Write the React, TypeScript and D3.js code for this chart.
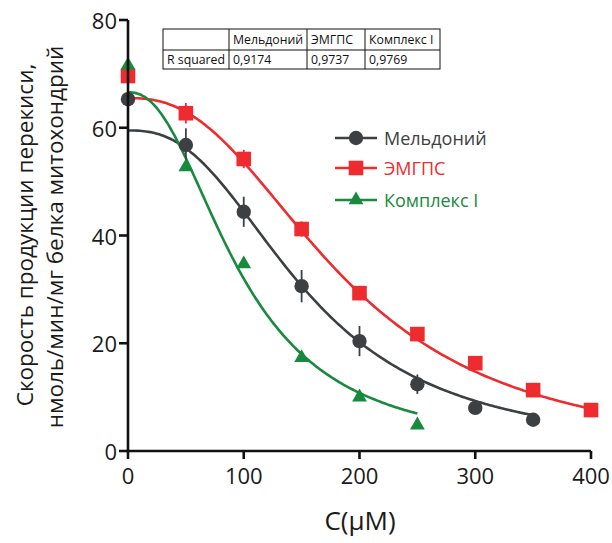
import React from "react";
import * as d3 from "d3";

// Concentrations (µM) and measured rates (nmol/min/mg mitochondrial protein)
const concMeld = [0, 50, 100, 150, 200, 250, 300, 350];
const valMeld = [65.3, 56.8, 44.4, 30.6, 20.4, 12.4, 8.0, 5.8];
const errMeld = [0, 3.1, 2.8, 3.0, 2.8, 1.8, 0, 0];

const concEmgps = [0, 50, 100, 150, 200, 250, 300, 350, 400];
const valEmgps = [69.6, 62.7, 54.2, 41.2, 29.3, 21.7, 16.3, 11.3, 7.6];
const errEmgps = [0, 1.9, 1.7, 1.4, 0, 0, 0, 0, 0];

const concComplex = [0, 50, 100, 150, 200, 250];
const valComplex = [71.6, 52.7, 34.7, 17.3, 10.0, 4.8];

// Four-parameter logistic fits: [top, bottom, EC50, Hill slope, max x]
const fitMeld = [59.5, 0, 153.6, 2.52, 350];
const fitEmgps = [65.5, -1, 186, 2.45, 400];
const fitComplex = [66.6, 0, 96.6, 2.26, 250];

const seriesNames = ["Мельдоний", "ЭМГПС", "Комплекс I"];
const seriesColors = ["#3d4043", "#ee2b2e", "#178a3d"];

const rSquaredHeader = ["", "Мельдоний", "ЭМГПС", "Комплекс I"];
const rSquaredRow = ["R squared", "0,9174", "0,9737", "0,9769"];

const xTicks = [0, 100, 200, 300, 400];
const yTicks = [0, 20, 40, 60, 80];

const FONT = "'Open Sans', 'Noto Sans', sans-serif";

const x = d3.scaleLinear().domain([0, 400]).range([128, 591]);
const y = d3.scaleLinear().domain([0, 80]).range([451, 20]);

function logistic(p: number[]) {
  const [top, bottom, ec50, hill] = p;
  return (c: number) => bottom + (top - bottom) / (1 + Math.pow(c / ec50, hill));
}

function fitPath(p: number[]) {
  const f = logistic(p);
  const xs = d3.range(0, p[4] + 0.001, 2);
  const line = d3
    .line<number>()
    .x((c) => x(c))
    .y((c) => y(f(c)))
    .curve(d3.curveMonotoneX);
  return line(xs) || "";
}

function Marker({ kind, cx, cy, color }: { kind: number; cx: number; cy: number; color: string }) {
  if (kind === 0) return <circle cx={cx} cy={cy} r={7.2} fill={color} />;
  if (kind === 1) return <rect x={cx - 7.3} y={cy - 7.3} width={14.6} height={14.6} fill={color} />;
  const s = d3.symbol().type(d3.symbolTriangle).size(95)();
  return <path d={s || ""} transform={`translate(${cx},${cy})`} fill={color} />;
}

function ErrorBars({ cs, vs, es, color }: { cs: number[]; vs: number[]; es: number[]; color: string }) {
  return (
    <g stroke={color} strokeWidth={1.8}>
      {cs.map((c, i) =>
        es[i] > 0 ? (
          <line key={i} x1={x(c)} x2={x(c)} y1={y(vs[i] + es[i])} y2={y(vs[i] - es[i])} />
        ) : null
      )}
    </g>
  );
}

export default function App() {
  const colX = [163, 229, 307, 365, 440];
  const rowY = [29, 50, 69];
  const legendRows = [138, 168, 200];

  return (
    <svg width={612} height={543} style={{ display: "block", position: "absolute", left: 0, top: 0 }}>
      <rect width={612} height={543} fill="#fff" />

      {/* Fitted curves */}
      <path d={fitPath(fitMeld)} fill="none" stroke={seriesColors[0]} strokeWidth={2.6} />
      <path d={fitPath(fitEmgps)} fill="none" stroke={seriesColors[1]} strokeWidth={2.6} />
      <path d={fitPath(fitComplex)} fill="none" stroke={seriesColors[2]} strokeWidth={2.6} />

      <ErrorBars cs={concMeld} vs={valMeld} es={errMeld} color={seriesColors[0]} />
      <ErrorBars cs={concEmgps} vs={valEmgps} es={errEmgps} color={seriesColors[1]} />

      {/* Data points */}
      {concMeld.map((c, i) => (
        <Marker key={"m" + i} kind={0} cx={x(c)} cy={y(valMeld[i])} color={seriesColors[0]} />
      ))}
      {concEmgps.map((c, i) => (
        <Marker key={"e" + i} kind={1} cx={x(c)} cy={y(valEmgps[i])} color={seriesColors[1]} />
      ))}
      {concComplex.map((c, i) => (
        <Marker key={"k" + i} kind={2} cx={x(c)} cy={y(valComplex[i])} color={seriesColors[2]} />
      ))}

      {/* Axes */}
      <g stroke="#111" strokeWidth={2.6} fill="none">
        <line x1={x(0)} x2={x(0)} y1={y(0) + 1.3} y2={y(80)} />
        <line x1={x(0)} x2={x(400)} y1={y(0)} y2={y(0)} />
        {yTicks.map((t) => (
          <line key={"yt" + t} x1={x(0) - 9} x2={x(0)} y1={y(t)} y2={y(t)} />
        ))}
        {xTicks.map((t) => (
          <line key={"xt" + t} x1={x(t)} x2={x(t)} y1={y(0)} y2={y(0) + 8} />
        ))}
      </g>
      <g fontFamily={FONT} fontSize={22} fill="#1a1a1a">
        {yTicks.map((t) => (
          <text key={"yl" + t} x={x(0) - 11} y={y(t)} textAnchor="end" dominantBaseline="central">
            {t}
          </text>
        ))}
        {xTicks.map((t) => (
          <text key={"xl" + t} x={x(t)} y={y(0) + 33} textAnchor="middle">
            {t}
          </text>
        ))}
      </g>

      {/* Axis titles */}
      <text x={360} y={530} textAnchor="middle" fontFamily={FONT} fontSize={26} fill="#1a1a1a">
        C(μM)
      </text>
      <g fontFamily={FONT} fontSize={22.5} fill="#1a1a1a" textAnchor="middle">
        <text transform="translate(33,235) rotate(-90)">Скорость продукции перекиси,</text>
        <text transform="translate(63,237) rotate(-90)">нмоль/мин/мг белка митохондрий</text>
      </g>

      {/* Legend */}
      {seriesNames.map((name, i) => (
        <g key={name}>
          <line x1={335} x2={377} y1={legendRows[i]} y2={legendRows[i]} stroke={seriesColors[i]} strokeWidth={2.6} />
          <Marker kind={i} cx={356} cy={legendRows[i]} color={seriesColors[i]} />
          <text
            x={384}
            y={legendRows[i]}
            dominantBaseline="central"
            fontFamily={FONT}
            fontSize={18}
            fill={seriesColors[i]}
          >
            {name}
          </text>
        </g>
      ))}

      {/* R squared table */}
      <g fontFamily={FONT} fontSize={12.3} fill="#111">
        <rect x={colX[0]} y={rowY[0]} width={colX[4] - colX[0]} height={rowY[2] - rowY[0]} fill="none" stroke="#111" strokeWidth={1} />
        <line x1={colX[0]} x2={colX[4]} y1={rowY[1]} y2={rowY[1]} stroke="#111" strokeWidth={1} />
        {colX.slice(1, 4).map((cx) => (
          <line key={cx} x1={cx} x2={cx} y1={rowY[0]} y2={rowY[2]} stroke="#111" strokeWidth={1} />
        ))}
        {rSquaredHeader.map((h, i) => (
          <text key={"h" + i} x={colX[i] + 4} y={(rowY[0] + rowY[1]) / 2} dominantBaseline="central">
            {h}
          </text>
        ))}
        {rSquaredRow.map((v, i) => (
          <text key={"r" + i} x={colX[i] + 4} y={(rowY[1] + rowY[2]) / 2} dominantBaseline="central">
            {v}
          </text>
        ))}
      </g>
    </svg>
  );
}
